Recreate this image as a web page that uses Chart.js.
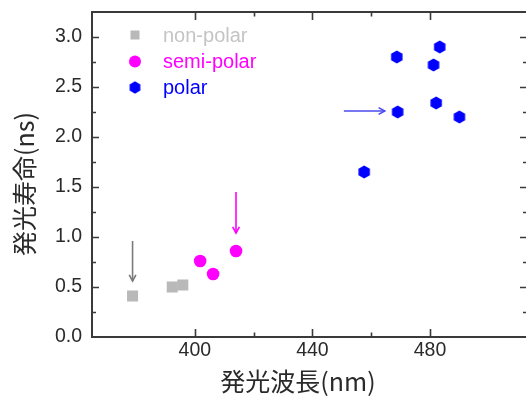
<!DOCTYPE html>
<html><head><meta charset="utf-8">
<script src="https://cdn.jsdelivr.net/npm/chart.js@4/dist/chart.umd.min.js"></script>
<style>html,body{margin:0;padding:0;overflow:hidden;background:#fff;width:526px;height:396px}#wrap{width:540px;height:396px}</style>
</head><body><div id="wrap"><canvas id="c" width="540" height="396"></canvas></div>
<script>
// ---- data ----
const seriesNames = ['non-polar', 'semi-polar', 'polar'];
const nonPolarX = [378.8, 392.3, 395.9];
const nonPolarY = [0.41, 0.50, 0.52];
const semiPolarX = [401.8, 406.2, 414.0];
const semiPolarY = [0.76, 0.63, 0.86];
const polarX = [457.6, 468.7, 469.0, 481.2, 482.1, 483.3, 490.0];
const polarY = [1.65, 2.80, 2.25, 2.72, 2.34, 2.90, 2.20];
const xTickLabels = [400, 440, 480];
const yTickLabels = [0.0, 0.5, 1.0, 1.5, 2.0, 2.5, 3.0];
const xTitle = '発光波長(nm)';
const yTitle = '発光寿命(ns)';
// arrows in data coordinates: [x0,y0,x1,y1]
const arrowGray = [378.8, 0.96, 378.8, 0.56];
const arrowMagenta = [414.0, 1.45, 414.0, 1.04];
const arrowBlue = [450.7, 2.26, 464.6, 2.26];

const GRAY = '#b9b9b9', MAG = '#ff00ff', BLUE = '#0000ff';
const AXIS = '#3a3a3a';
const LATIN = '"Liberation Sans", Arial, sans-serif';
const CJK = '"Noto Sans CJK JP", sans-serif';

function hexImg(r, color) {
  const s = Math.ceil(r * 2 + 2);
  const cv = document.createElement('canvas');
  cv.width = s; cv.height = s;
  const g = cv.getContext('2d');
  g.fillStyle = color;
  g.beginPath();
  for (let i = 0; i < 6; i++) {
    const a = Math.PI / 2 + i * Math.PI / 3;
    const px = s / 2 + r * Math.cos(a), py = s / 2 - r * Math.sin(a);
    i ? g.lineTo(px, py) : g.moveTo(px, py);
  }
  g.closePath(); g.fill();
  return cv;
}
const hex = hexImg(6.6, BLUE);
const hexLeg = hexImg(6.2, BLUE);

const toPts = (xs, ys) => xs.map((x, i) => ({x, y: ys[i]}));

const frame = {
  id: 'frame',
  afterDraw(chart) {
    const {ctx, chartArea: a, scales: {x, y}} = chart;
    ctx.save();
    ctx.strokeStyle = AXIS; ctx.lineWidth = 2;
    ctx.strokeRect(a.left, a.top, a.right - a.left, a.bottom - a.top);
    ctx.lineWidth = 1.6;
    x.ticks.forEach(t => {
      const v = t.value;
      if (Math.abs(v % 20) > 1e-6 || v <= x.min || v >= x.max) return;
      const major = v % 40 === 0;
      const len = major ? 8 : 4.5;
      const px = Math.round(x.getPixelForValue(v)) + 0.5;
      ctx.beginPath();
      ctx.moveTo(px, a.bottom); ctx.lineTo(px, a.bottom - len);
      ctx.moveTo(px, a.top); ctx.lineTo(px, a.top + len);
      ctx.stroke();
    });
    y.ticks.forEach(t => {
      const v = t.value;
      if (v <= y.min + 1e-6 || v >= y.max - 1e-6) return;
      const major = Math.abs(v * 2 - Math.round(v * 2)) < 1e-6;
      const len = major ? 7 : 4;
      const py = Math.round(y.getPixelForValue(v)) + 0.5;
      ctx.beginPath();
      ctx.moveTo(a.left, py); ctx.lineTo(a.left + len, py);
      ctx.moveTo(a.right, py); ctx.lineTo(a.right - len, py);
      ctx.stroke();
    });
    function arrow(d, color) {
      const x0 = x.getPixelForValue(d[0]), y0 = y.getPixelForValue(d[1]);
      const x1 = x.getPixelForValue(d[2]), y1 = y.getPixelForValue(d[3]);
      const ang = Math.atan2(y1 - y0, x1 - x0);
      ctx.strokeStyle = color; ctx.lineWidth = 1.6;
      ctx.beginPath(); ctx.moveTo(x0, y0); ctx.lineTo(x1, y1); ctx.stroke();
      const h = 7, w = 0.5;
      ctx.beginPath();
      ctx.moveTo(x1 - h * Math.cos(ang - w), y1 - h * Math.sin(ang - w));
      ctx.lineTo(x1, y1);
      ctx.lineTo(x1 - h * Math.cos(ang + w), y1 - h * Math.sin(ang + w));
      ctx.stroke();
    }
    arrow(arrowGray, '#7a7a7a');
    arrow(arrowMagenta, MAG);
    arrow(arrowBlue, '#4a4af0');
    // legend
    const lx = 135, tx = 163, rows = [35, 61.5, 87.5];
    ctx.textBaseline = 'middle'; ctx.textAlign = 'left';
    ctx.font = '20px ' + LATIN;
    ctx.fillStyle = GRAY; ctx.fillRect(lx - 4.5, rows[0] - 4.5, 9, 9);
    ctx.fillStyle = '#c4c4c4'; ctx.fillText(seriesNames[0], tx, rows[0] + 1);
    ctx.fillStyle = MAG; ctx.beginPath(); ctx.arc(lx, rows[1], 6, 0, Math.PI * 2); ctx.fill();
    ctx.fillText(seriesNames[1], tx, rows[1] + 1);
    ctx.drawImage(hexLeg, lx - hexLeg.width / 2, rows[2] - hexLeg.height / 2);
    ctx.fillStyle = BLUE; ctx.fillText(seriesNames[2], tx, rows[2] + 1);
    // axis titles
    ctx.fillStyle = '#2a2a2a';
    ctx.font = '25px ' + CJK;
    ctx.textAlign = 'center';
    ctx.fillText(xTitle, 298, 381);
    ctx.save();
    ctx.translate(24, 184); ctx.rotate(-Math.PI / 2);
    ctx.fillText(yTitle, 0, 0);
    ctx.restore();
    ctx.restore();
  }
};

new Chart(document.getElementById('c'), {
  type: 'scatter',
  data: {
    datasets: [
      {label: seriesNames[0], data: toPts(nonPolarX, nonPolarY), pointStyle: 'rect', pointRadius: 7.8,
       backgroundColor: GRAY, borderWidth: 0},
      {label: seriesNames[1], data: toPts(semiPolarX, semiPolarY), pointStyle: 'circle', pointRadius: 6.3,
       backgroundColor: MAG, borderWidth: 0},
      {label: seriesNames[2], data: toPts(polarX, polarY), pointStyle: hex, pointRadius: 7,
       backgroundColor: BLUE, borderWidth: 0}
    ]
  },
  options: {
    responsive: false, animation: false,
    layout: {padding: {top: 12, right: 13, left: 0, bottom: 0}},
    plugins: {legend: {display: false}, tooltip: {enabled: false}},
    scales: {
      x: {
        type: 'linear', min: 365, max: 513,
        afterFit(s) { s.height = 59; s.paddingLeft = 0; s.paddingRight = 0; },
        grid: {display: false, drawTicks: false},
        border: {display: false},
        ticks: {stepSize: 20, padding: 2, color: '#2a2a2a', font: {family: LATIN, size: 19.5},
          maxRotation: 0, autoSkip: false,
          callback: v => xTickLabels.includes(v) ? String(v) : ''}
      },
      y: {
        type: 'linear', min: 0, max: 3.25,
        afterFit(s) { s.width = 92; s.paddingTop = 0; s.paddingBottom = 0; },
        grid: {display: false, drawTicks: false},
        border: {display: false},
        ticks: {stepSize: 0.25, padding: 10, color: '#2a2a2a', font: {family: LATIN, size: 19.5},
          autoSkip: false,
          callback: v => {
            const m = yTickLabels.find(t => Math.abs(t - v) < 1e-6);
            return m === undefined ? '' : m.toFixed(1);
          }}
      }
    }
  },
  plugins: [frame]
});
</script></body></html>
